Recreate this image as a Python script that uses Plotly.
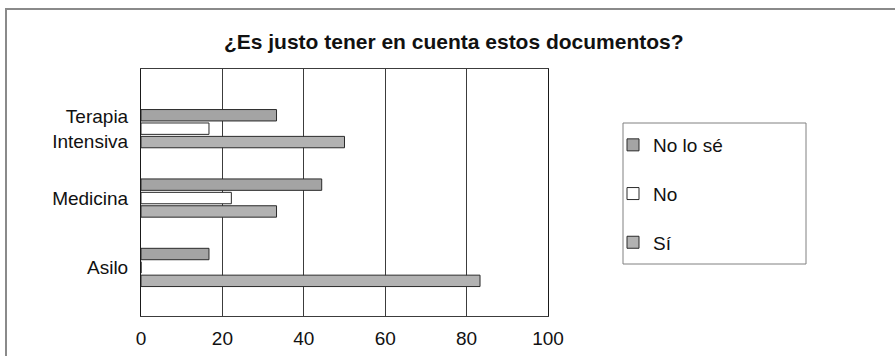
import plotly.graph_objects as go

# Survey answers (percent of respondents) per service
categories = ["Asilo", "Medicina", "Terapia<br>Intensiva"]
si_values = [83.3, 33.3, 50.0]
no_values = [0.0, 22.2, 16.7]
no_lo_se_values = [16.7, 44.4, 33.3]
x_ticks = [0, 20, 40, 60, 80, 100]

title_text = "¿Es justo tener en cuenta estos documentos?"
FONT = "Liberation Sans, Arial, sans-serif"

fig = go.Figure()

# First trace sits at the bottom of each group; legendrank puts it last in the key
series = [
    ("Sí", si_values, "#b2b2b2", 3),
    ("No", no_values, "#ffffff", 2),
    ("No lo sé", no_lo_se_values, "#a4a4a4", 1),
]
for name, vals, color, rank in series:
    fig.add_trace(go.Bar(
        name=name,
        y=categories,
        x=vals,
        orientation="h",
        legendgroup=name,
        legendrank=rank,
        marker=dict(color=color, line=dict(color="#2a2a2a", width=1)),
    ))

fig.update_layout(
    width=895,
    height=356,
    margin=dict(l=141, r=347, t=69, b=40, autoexpand=False),
    paper_bgcolor="white",
    plot_bgcolor="white",
    font=dict(family=FONT, size=19, color="#111111"),
    barmode="group",
    bargap=0.42,
    bargroupgap=0.15,
    title=dict(
        text=f"<b>{title_text}</b>",
        font=dict(family=FONT, size=21, color="#111111"),
        xref="container", yref="container",
        x=0.507, y=1 - 42 / 356,
        xanchor="center", yanchor="middle",
    ),
    xaxis=dict(
        range=[0, 100],
        tickvals=x_ticks,
        automargin=False,
        showgrid=True,
        gridcolor="#3c3c3c",
        gridwidth=1,
        zeroline=False,
        showline=True,
        linecolor="#3c3c3c",
        linewidth=1,
        mirror=True,
        ticks="outside",
        ticklen=5,
        tickcolor="rgba(0,0,0,0)",
        tickfont=dict(size=19),
        fixedrange=True,
    ),
    yaxis=dict(
        type="category",
        range=[-0.70, 2.86],
        automargin=False,
        showgrid=False,
        showline=True,
        linecolor="#1a1a1a",
        linewidth=1,
        mirror=True,
        ticks="outside",
        ticklen=8,
        tickcolor="rgba(0,0,0,0)",
        tickfont=dict(size=19),
        fixedrange=True,
    ),
    legend=dict(
        x=(613 - 141) / 407, y=1 - (126 - 69) / 247,
        xanchor="left", yanchor="top",
        traceorder="grouped",
        tracegroupgap=21,
        borderwidth=0,
        bgcolor="rgba(0,0,0,0)",
        font=dict(size=19),
    ),
    showlegend=True,
)

# Outer chart frame
fig.add_shape(
    type="rect", xref="paper", yref="paper",
    x0=(6 - 141) / 407, x1=(905 - 141) / 407,
    y0=-(370 - 316) / 247, y1=1 + (69 - 9) / 247,
    line=dict(color="#8a8a8a", width=2),
    fillcolor="rgba(0,0,0,0)",
    layer="below",
)

# Legend box
fig.add_shape(
    type="rect", xref="paper", yref="paper",
    x0=(623 - 141) / 407, x1=(806 - 141) / 407,
    y0=1 - (264 - 69) / 247, y1=1 - (123 - 69) / 247,
    line=dict(color="#808080", width=1),
    fillcolor="rgba(0,0,0,0)",
    layer="below",
)

fig.write_html("out.html")
